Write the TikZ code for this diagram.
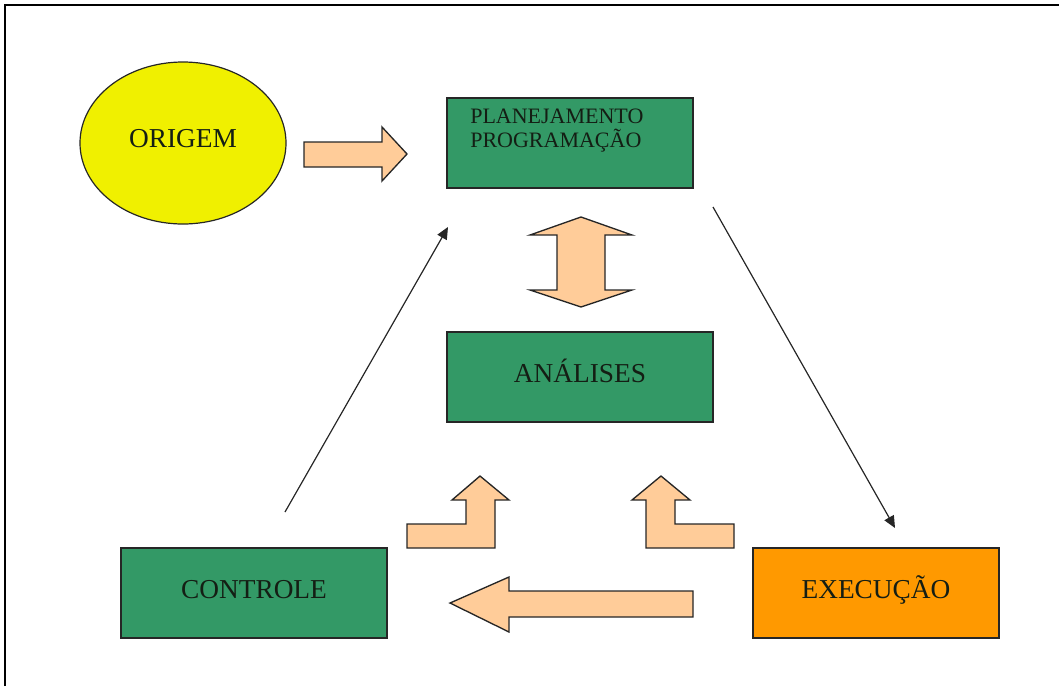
\documentclass[tikz,border=0pt]{standalone}
\usepackage{fontspec}
\setmainfont{Liberation Serif}
\usetikzlibrary{shapes.geometric,arrows.meta}
\definecolor{boxgreen}{RGB}{51,153,102}
\definecolor{boxorange}{RGB}{255,153,0}
\definecolor{peach}{RGB}{255,204,153}
\definecolor{origyellow}{RGB}{240,240,0}
\definecolor{txt}{RGB}{20,30,20}
\begin{document}
\begin{tikzpicture}[x=0.75pt,y=-0.75pt,
  box/.style={draw=black!85,line width=0.9pt,rectangle,inner sep=0pt,
    minimum height=67.5pt,text=txt,text height=14pt,text depth=6pt,
    font=\fontsize{20.5}{24}\selectfont},
  blockarrow/.style={draw=black!85,line width=1pt,fill=peach,line join=miter},
  thinarrow/.style={draw=black!85,line width=0.9pt,-{Triangle[length=9pt,width=8pt]}}]
\useasboundingbox (0,0) rectangle (1059,686);
% frame
\draw[line width=1.6pt] (5,686) -- (5,5) -- (1059,5);
% nodes
\node[ellipse,draw=black!85,line width=0.9pt,fill=origyellow,inner sep=0pt,
  minimum width=154.5pt,minimum height=121.5pt,text=txt,text height=14pt,text depth=8pt,
  font=\fontsize{20.5}{24}\selectfont]
  (origem) at (183,143) {ORIGEM};
\node[box,fill=boxgreen,minimum width=184.5pt] (plan) at (570,143) {};
\node[anchor=north west,inner sep=0pt,align=left,text=txt,font=\fontsize{16.5}{18}\selectfont]
  (plantext) at (470,109) {PLANEJAMENTO\\PROGRAMAÇÃO};
\node[box,fill=boxgreen,minimum width=199.5pt] (anal) at (580,377) {ANÁLISES};
\node[box,fill=boxgreen,minimum width=199.5pt] (contr) at (254,593) {CONTROLE};
\node[box,fill=boxorange,minimum width=184.5pt] (exec) at (876,593) {EXECUÇÃO};
% block arrows
\draw[blockarrow] (304,142) -- (382,142) -- (382,127) -- (407,154) -- (382,181)
  -- (382,167) -- (304,167) -- cycle;
\draw[blockarrow] (581,217) -- (632,235) -- (605,235) -- (605,290) -- (632,290)
  -- (581,307) -- (530,290) -- (557,290) -- (557,235) -- (530,235) -- cycle;
\draw[blockarrow] (407,524) -- (466,524) -- (466,500) -- (452,500) -- (480,476)
  -- (509,500) -- (495,500) -- (495,548) -- (407,548) -- cycle;
\draw[blockarrow] (734,524) -- (675,524) -- (675,500) -- (690,500) -- (661,476)
  -- (632,500) -- (646,500) -- (646,548) -- (734,548) -- cycle;
\draw[blockarrow] (450,603) -- (509,577) -- (509,591) -- (693,591) -- (693,617)
  -- (509,617) -- (509,632) -- cycle;
% thin arrows
\coordinate (c1) at (285,512);
\coordinate (c2) at (448,227);
\coordinate (e1) at (713,207);
\coordinate (e2) at (895,528);
\draw[thinarrow] (c1) -- (c2);
\draw[thinarrow] (e1) -- (e2);
\end{tikzpicture}
\end{document}
